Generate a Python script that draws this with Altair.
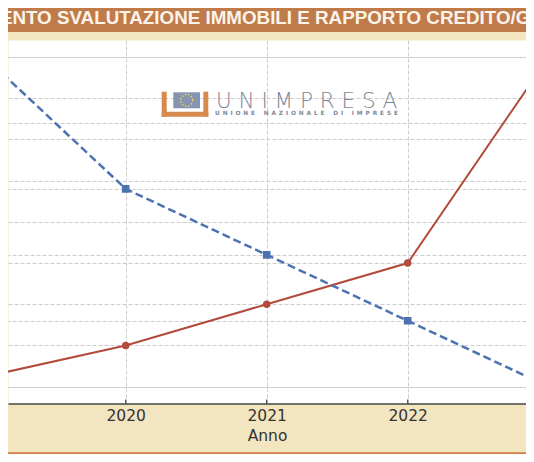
import altair as alt
import pandas as pd

# ---------------- data ----------------
years = [2019, 2020, 2021, 2022, 2023]
svalutazione = [11.2, 15.0, 20.0, 25.0, 50.0]      # red solid line
rapporto = [85.0, 75.0, 70.0, 65.0, 60.0]          # blue dashed line
tick_years = [2020, 2021, 2022]
red_grid = [10, 15, 20, 25, 30, 35, 40, 45, 50]
blue_grid = [60, 65, 70, 75, 80, 85]
title_text = "ANDAMENTO SVALUTAZIONE IMMOBILI E RAPPORTO CREDITO/GARANZIE"
x_title = "Anno"
logo_name = "UNIMPRESA"
logo_sub = "UNIONE NAZIONALE DI IMPRESE"

# ---------------- styling ----------------
W, H = 518, 363.5
BEIGE = "#f3e5c0"
BROWN = "#c07b4a"
STRIP = "#d27b45"
RED = "#b24b3b"
BLUE = "#4c72b0"
GRID = "#cccccc"
LOGO_OR = "#d88a4c"
LOGO_TXT = "#7b8798"

px_per_year = 141.0
X0 = 2020 - 117.7 / px_per_year
X1 = X0 + W / px_per_year

red_lo = 10 - 16.8 / 8.25
red_hi = 50 + 17.0 / 8.25
blue_lo = 60 - 16.8 / 13.2
blue_hi = 85 + 17.0 / 13.2

df = pd.DataFrame({"year": years, "svalutazione": svalutazione, "rapporto": rapporto})
ticks_df = pd.DataFrame({"year": tick_years})
one = pd.DataFrame({"k": [0]})

x_axis = alt.Axis(
    values=tick_years, format="d", grid=True, gridColor=GRID, gridDash=[4, 2], gridWidth=1,
    ticks=False, domainColor="#444444", domainWidth=1.3,
    labelFont="DejaVu Sans", labelFontSize=15.5, labelColor="#333333", labelPadding=5,
    labelFlush=False, labelOverlap=False,
    title=x_title, titleFont="DejaVu Sans", titleFontSize=15.5, titleFontWeight="normal",
    titleColor="#333333", titleBaseline="alphabetic", titleY=37,
)
X = alt.X("year:Q", scale=alt.Scale(domain=[X0, X1], nice=False, zero=False), axis=x_axis, title=x_title)

red_axis = alt.Axis(values=red_grid, grid=True, gridColor=GRID, gridDash=[4, 2], gridWidth=1,
                    labels=False, ticks=False, domain=False)
blue_axis = alt.Axis(values=blue_grid, grid=True, gridColor=GRID, gridDash=[4, 2], gridWidth=1,
                     labels=False, ticks=False, domain=False, orient="right")
YR = alt.Y("svalutazione:Q", scale=alt.Scale(domain=[red_lo, red_hi], nice=False, zero=False),
           axis=red_axis, title=None)
YB = alt.Y("rapporto:Q", scale=alt.Scale(domain=[blue_lo, blue_hi], nice=False, zero=False),
           axis=blue_axis, title=None)

red_line = alt.Chart(df).mark_line(color=RED, strokeWidth=2, clip=True).encode(x=X, y=YR)
red_pts = alt.Chart(df).mark_point(shape="circle", filled=True, size=56, color=RED, opacity=1,
                                   clip=True).encode(x=X, y=YR)
red = alt.layer(red_line, red_pts)

blue_line = alt.Chart(df).mark_line(color=BLUE, strokeWidth=2.5, strokeDash=[8, 4],
                                    clip=True).encode(x=X, y=YB)
blue_pts = alt.Chart(df).mark_point(shape="square", filled=True, size=58, color=BLUE, opacity=1,
                                    clip=True).encode(x=X, y=YB)
blue = alt.layer(blue_line, blue_pts)

tick_rules = alt.Chart(ticks_df).mark_rule(color="#444444", strokeWidth=1.2).encode(
    x=X, y=alt.value(H - 4), y2=alt.value(H))


def box(x1, x2, y1, y2, color):
    return alt.Chart(one).mark_rect(color=color).encode(
        x=alt.value(x1), x2=alt.value(x2), y=alt.value(y1), y2=alt.value(y2))


title_band = box(0, W, -32, -8, BROWN)
bottom_strip = box(0, W, 412.3, 416, STRIP)

title_mark = alt.Chart(one).mark_text(
    text=title_text, font="Liberation Sans", fontSize=18.8, fontWeight="bold",
    color="#fbf4ea", align="left", baseline="alphabetic").encode(
    x=alt.value(-78.0), y=alt.value(-16))

# logo
logo_left = box(153.7, 158.7, 51.7, 76.7, LOGO_OR)
logo_right = box(195.3, 200.3, 51.7, 76.7, LOGO_OR)
logo_bottom = box(153.7, 200.3, 71.7, 76.7, LOGO_OR)
logo_flag = box(165.3, 192.0, 52.3, 68.3, "#8494b2")
logo_stars = alt.Chart(one).mark_point(shape="circle", filled=False, size=140, color="#f0d850",
                                       strokeWidth=1.6, strokeDash=[1.3, 1.85], opacity=1).encode(
    x=alt.value(178.7), y=alt.value(60.3))
logo_big = alt.Chart(one).mark_text(
    text=" ".join(logo_name), font="DejaVu Sans", fontSize=21.5, fontWeight=200,
    color=LOGO_TXT, align="center", baseline="alphabetic").encode(
    x=alt.value(298.5), y=alt.value(67.5))
sub_spaced = "\u2003\u2002".join("\u2002".join(w) for w in logo_sub.split(" "))
logo_small = alt.Chart(one).mark_text(
    text=sub_spaced, font="DejaVu Sans", fontSize=5.8, fontWeight="bold",
    color=LOGO_TXT, align="center", baseline="alphabetic").encode(
    x=alt.value(298.5), y=alt.value(75))

chart = alt.layer(
    title_band, bottom_strip, red, blue, tick_rules,
    logo_left, logo_right, logo_bottom, logo_flag, logo_stars, logo_big, logo_small,
    title_mark,
).resolve_scale(y="independent").properties(
    width=W, height=H,
    padding={"left": 0, "right": 0, "top": 32, "bottom": 50.5},
    autosize=alt.AutoSizeParams(type="none"),
    background=BEIGE,
).configure_view(fill="white", stroke="transparent")

chart.save("out.html", embed_options={"renderer": "svg", "actions": False})
